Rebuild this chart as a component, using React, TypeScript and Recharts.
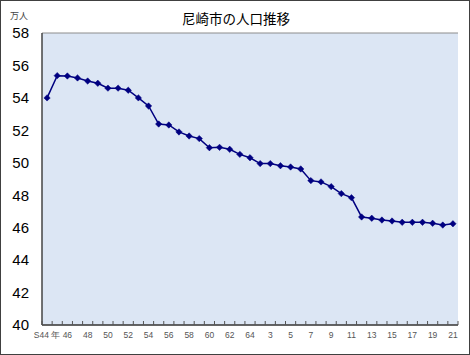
import React from "react";
import { LineChart, Line, XAxis, YAxis, CartesianGrid } from "recharts";

const years = [
  "S44", "S45", "S46", "S47", "S48", "S49", "S50", "S51", "S52", "S53",
  "S54", "S55", "S56", "S57", "S58", "S59", "S60", "S61", "S62", "S63",
  "S64", "H2", "H3", "H4", "H5", "H6", "H7", "H8", "H9", "H10",
  "H11", "H12", "H13", "H14", "H15", "H16", "H17", "H18", "H19", "H20", "H21",
];

const population = [
  54.0, 55.37, 55.35, 55.23, 55.04, 54.9, 54.6, 54.6, 54.47, 54.0,
  53.5, 52.39, 52.33, 51.9, 51.65, 51.49, 50.93, 50.95, 50.83, 50.52,
  50.31, 49.95, 49.95, 49.82, 49.74, 49.62, 48.9, 48.82, 48.53, 48.1,
  47.85, 46.66, 46.58, 46.47, 46.41, 46.33, 46.33, 46.33, 46.27, 46.16, 46.24,
];

const tickLabels = [
  "S44 年", "46", "48", "50", "52", "54", "56", "58", "60", "62", "64",
  "3", "5", "7", "9", "11", "13", "15", "17", "19", "21",
];

const yTicks = [40, 42, 44, 46, 48, 50, 52, 54, 56, 58];

const data = years.map((y, i) => ({ i, year: y, value: population[i] }));
const labelTicks = tickLabels.map((_, k) => k * 2);
const boundaryTicks = years.map((_, i) => i - 0.5).concat([years.length - 0.5]);
const allXTicks = [...boundaryTicks, ...labelTicks].sort((a, b) => a - b);

const Diamond = (props: any) => {
  const { cx, cy, index } = props;
  if (cx == null || cy == null) return <g key={index} />;
  const r = 3.2;
  return (
    <path
      key={index}
      d={`M${cx},${cy - r}L${cx + r},${cy}L${cx},${cy + r}L${cx - r},${cy}Z`}
      fill="#000080"
      stroke="#000080"
      strokeWidth={0.5}
    />
  );
};

const XTick = (props: any) => {
  const { x, y, payload } = props;
  const v = Number(payload.value);
  const k = Math.round(v * 2);
  if (k % 2 === 0) {
    return (
      <text
        x={x}
        y={y + 13}
        textAnchor="middle"
        fontSize={8.5}
        fill="#555"
        fontFamily="'Liberation Sans', Arial, sans-serif"
      >
        {tickLabels[Math.round(v) / 2]}
      </text>
    );
  }
  return (
    <path d={`M${x},${y - 4}V${y}`} stroke="#555" strokeWidth={1} fill="none" />
  );
};

export default function App() {
  return (
    <div
      style={{
        position: "absolute",
        left: 0,
        top: 0,
        width: 470,
        height: 355,
        border: "1px solid #404040",
        boxSizing: "border-box",
        background: "#fff",
        fontFamily: "'Liberation Sans', Arial, sans-serif",
      }}
    >
      <div
        style={{
          position: "absolute",
          left: 0,
          width: 470,
          top: 7,
          textAlign: "center",
          fontSize: 13.5,
          fontFamily: "'Noto Sans CJK JP', sans-serif",
          color: "#000",
        }}
      >
        尼崎市の人口推移
      </div>
      <div
        style={{
          position: "absolute",
          left: 9,
          top: 8,
          fontSize: 9,
          fontFamily: "'Noto Sans CJK JP', sans-serif",
          color: "#444",
        }}
      >
        万人
      </div>
      <div style={{ position: "absolute", left: -1, top: -1 }}>
        <LineChart
          width={470}
          height={355}
          data={data}
          margin={{ top: 33, right: 12, bottom: 0, left: 0 }}
        >
          <CartesianGrid
            vertical={false}
            fill="#dce6f4"
            stroke="#8c8c8c"
            strokeWidth={1}
          />
          <XAxis
            type="number"
            dataKey="i"
            domain={[-0.5, 40.5]}
            ticks={allXTicks}
            interval={0}
            tickSize={0}
            tickMargin={0}
            tickLine={false}
            axisLine={{ stroke: "#444", strokeWidth: 1.5 }}
            tick={<XTick />}
            height={30}
          />
          <YAxis
            yAxisId="left"
            domain={[40, 58]}
            ticks={yTicks}
            interval={0}
            width={42}
            tickLine={false}
            axisLine={{ stroke: "#444", strokeWidth: 1.5 }}
            tick={{ fontSize: 15, fill: "#000" }}
            tickMargin={7}
          />
          <YAxis
            yAxisId="right"
            orientation="right"
            domain={[40, 58]}
            ticks={yTicks}
            width={0}
            tick={false}
            tickLine={false}
            axisLine={{ stroke: "#8c8c8c", strokeWidth: 1.5 }}
          />
          <Line
            yAxisId="left"
            dataKey="value"
            stroke="#000080"
            strokeWidth={1.5}
            dot={<Diamond />}
            isAnimationActive={false}
          />
        </LineChart>
      </div>
    </div>
  );
}
